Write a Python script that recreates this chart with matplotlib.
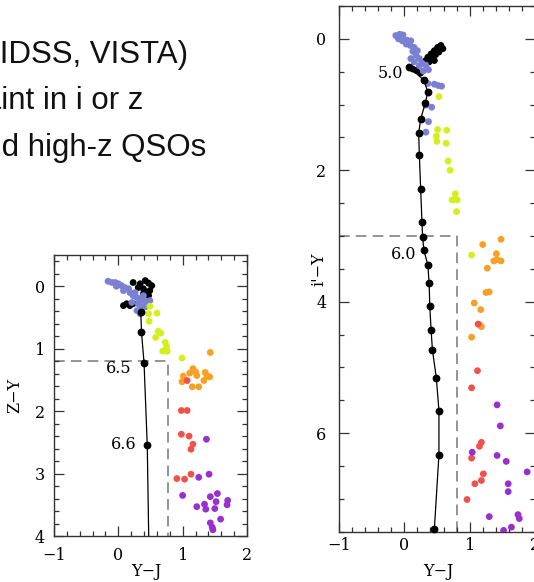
import numpy as np
import matplotlib
matplotlib.use("Agg")
from matplotlib import pyplot as plt
from matplotlib.ticker import MultipleLocator

# colour groups of the simulated sources
c_blue = "#7b80d2"
c_lime = "#d4ef1c"
c_orange = "#f6a124"
c_red = "#f0524a"
c_purple = "#9a2fcf"

# ---- left panel: Z-Y vs Y-J ----
zy_blue_x = [-0.16, -0.10, -0.05, 0.0, 0.05, 0.10, 0.16, -0.03, 0.08, 0.18, 0.23, 0.29, 0.34, 0.39,
             0.44, 0.49, 0.31, 0.36, 0.29, 0.34, 0.39, 0.26, 0.21, 0.42]
zy_blue_y = [-0.08, -0.06, -0.06, -0.04, -0.01, 0.02, 0.04, 0.0, 0.07, 0.10, 0.15, 0.18, 0.20, 0.23,
             0.25, 0.23, 0.28, 0.33, 0.39, 0.44, 0.15, 0.10, 0.26, 0.33]
zy_black_x = [0.23, 0.34, 0.42, 0.47, 0.52, 0.49, 0.44, 0.47, 0.39, 0.31, 0.23, 0.18, 0.08, 0.13, 0.39]
zy_black_y = [-0.06, -0.04, -0.09, -0.05, -0.01, 0.07, 0.10, 0.15, 0.04, 0.02, 0.28, 0.31, 0.31, 0.28, 0.12]
zy_lime_x = [0.49, 0.47, 0.60, 0.48, 0.62, 0.66, 0.58, 0.73, 0.75, 0.69, 0.76, 0.99]
zy_lime_y = [0.32, 0.44, 0.43, 0.56, 0.72, 0.75, 0.82, 0.90, 0.97, 1.04, 1.04, 1.15]
zy_orange_x = [1.43, 1.16, 1.11, 1.20, 1.01, 1.22, 1.35, 1.42, 0.99, 1.33, 1.15, 1.25, 1.38]
zy_orange_y = [1.06, 1.32, 1.39, 1.37, 1.44, 1.43, 1.38, 1.45, 1.53, 1.51, 1.61, 1.61, 1.44]
zy_red_x = [1.07, 0.98, 1.07, 0.98, 1.10, 1.16, 1.13, 0.91, 1.03, 1.13]
zy_red_y = [1.51, 1.99, 1.99, 2.37, 2.40, 2.53, 2.61, 3.08, 3.09, 3.01]
zy_purple_x = [1.37, 1.25, 1.41, 1.00, 1.22, 1.34, 1.36, 1.43, 1.54, 1.52, 1.50, 1.70, 1.69, 1.59,
               1.43, 1.46, 1.47]
zy_purple_y = [2.45, 3.06, 3.01, 3.35, 3.53, 3.49, 3.57, 3.37, 3.32, 3.45, 3.56, 3.43, 3.50, 3.73,
               3.79, 3.86, 3.90]
# quasar track, z = 6.3 ... 6.7
zy_track_z = [6.3, 6.4, 6.5, 6.6, 6.7]
zy_track_x = [0.35, 0.36, 0.40, 0.45, 0.48]
zy_track_y = [0.42, 0.73, 1.23, 2.55, 4.5]

# ---- right panel: i'-Y vs Y-J ----
iy_blue_x = [-0.13, -0.07, -0.02, -0.09, -0.03, 0.04, 0.10, 0.03, 0.09, 0.15, 0.13, 0.20, 0.18, 0.10,
             0.23, 0.15, 0.27, 0.33, 0.37, 0.29, 0.23, 0.36, 0.46, 0.52, 0.57, 0.33, 0.42, 0.37, 0.33]
iy_blue_y = [-0.05, -0.07, -0.06, 0.0, 0.03, 0.02, 0.03, 0.08, 0.10, 0.13, 0.19, 0.18, 0.25, 0.30,
             0.30, 0.35, 0.37, 0.40, 0.47, 0.49, 0.41, 0.68, 0.69, 0.71, 0.72, 1.01, 1.04, 1.26, 1.42]
iy_black_x = [0.56, 0.51, 0.59, 0.46, 0.53, 0.41, 0.48, 0.36, 0.43, 0.33, 0.38, 0.46, 0.31, 0.18,
              0.25, 0.13]
iy_black_y = [0.10, 0.13, 0.15, 0.18, 0.20, 0.23, 0.24, 0.28, 0.29, 0.33, 0.35, 0.33, 0.36, 0.48,
              0.52, 0.46]
iy_lime_x = [0.53, 0.51, 0.65, 0.49, 0.50, 0.64, 0.67, 0.70, 0.78, 0.73, 0.77, 0.81, 0.80, 1.03]
iy_lime_y = [0.88, 1.38, 1.39, 1.48, 1.56, 1.59, 1.86, 2.00, 2.36, 2.45, 2.45, 2.45, 2.63, 3.29]
iy_orange_x = [1.48, 1.20, 1.41, 1.37, 1.42, 1.48, 1.27, 1.25, 1.30, 1.07, 1.17, 1.18, 1.03, 1.15]
iy_orange_y = [3.05, 3.13, 3.27, 3.38, 3.36, 3.38, 3.49, 3.86, 3.85, 4.02, 4.12, 4.38, 4.54, 4.35]
iy_red_x = [1.13, 1.12, 1.03, 1.18, 1.15, 1.03, 1.21, 1.18, 1.08, 0.96]
iy_red_y = [4.34, 5.05, 5.31, 6.14, 6.20, 6.38, 6.62, 6.72, 6.77, 7.01]
iy_purple_x = [1.42, 1.47, 1.04, 1.42, 1.56, 1.88, 1.59, 1.59, 1.30, 1.74, 1.76, 1.64, 1.52]
iy_purple_y = [5.57, 5.89, 6.29, 6.34, 6.43, 6.59, 6.77, 6.89, 7.27, 7.24, 7.30, 7.43, 7.48]
# quasar track, z = 5.0 ... 6.9 in steps of 0.1
iy_track_z = [5.0, 5.1, 5.2, 5.3, 5.4, 5.5, 5.6, 5.7, 5.8, 5.9, 6.0, 6.1, 6.2, 6.3, 6.4, 6.5, 6.6,
              6.7, 6.8, 6.9]
iy_track_x = [0.076, 0.30, 0.36, 0.32, 0.25, 0.22, 0.23, 0.25, 0.27, 0.28, 0.30, 0.36, 0.38, 0.39,
              0.41, 0.43, 0.49, 0.53, 0.53, 0.46]
iy_track_y = [0.43, 0.63, 0.81, 0.98, 1.22, 1.44, 1.76, 2.28, 2.78, 3.02, 3.22, 3.44, 3.72, 4.07,
              4.43, 4.73, 5.16, 5.66, 6.33, 7.46]

# redshift labels and their offsets from the track point (dx, dy)
zy_labels = {6.5: (-0.19, 0.08), 6.6: (-0.16, -0.02)}
iy_labels = {5.0: (-0.10, 0.10), 6.0: (-0.12, 0.06)}

# colour cuts (dashed boxes)
zy_cut_y, zy_cut_x = 1.2, 0.78
iy_cut_y, iy_cut_x = 3.0, 0.80

serif = "DejaVu Serif"
plt.rcParams["font.family"] = serif
plt.rcParams["font.size"] = 11.5

fig = plt.figure(figsize=(5.34, 5.82), dpi=100)

# slide text (left part runs off the figure)
slide_lines = ["(UKIDSS, VISTA)", "faint in i or z", "and high-z QSOs"]
slide_x = [0.353, 0.269, 0.386]
slide_y = [0.892, 0.813, 0.732]
for s, tx, ty in zip(slide_lines, slide_x, slide_y):
    fig.text(tx, ty, s, ha="right", va="baseline", fontsize=22.5,
             family="Liberation Sans", color="#111111")


def style_axes(ax, ymajor, yminor, xpad, ypad):
    ax.set_xlim(-1, 2)
    ax.xaxis.set_major_locator(MultipleLocator(1))
    ax.xaxis.set_minor_locator(MultipleLocator(0.2))
    ax.yaxis.set_major_locator(MultipleLocator(ymajor))
    ax.yaxis.set_minor_locator(MultipleLocator(yminor))
    ax.tick_params(which="both", direction="in", top=True, right=True,
                   color="#333333", width=0.9)
    ax.tick_params(which="major", length=7)
    ax.tick_params(which="minor", length=3.5)
    ax.tick_params(axis="x", pad=xpad)
    ax.tick_params(axis="y", pad=ypad)
    for sp in ax.spines.values():
        sp.set_color("#333333")
        sp.set_linewidth(1.0)


def draw_groups(ax, groups, size):
    for gx, gy, col in groups:
        ax.scatter(gx, gy, s=size, color=col, edgecolors="none", zorder=3)


def label_track(ax, zs, xs, ys, labels):
    for z, tx, ty in zip(zs, xs, ys):
        if z in labels:
            dx, dy = labels[z]
            ax.text(tx + dx, ty + dy, f"{z:.1f}", ha="right", va="center", zorder=5)


# ---- left panel ----
ax1 = fig.add_axes([0.1011, 0.0790, 0.3614, 0.4828])
style_axes(ax1, 1, 0.2, 8, 6.5)
ax1.set_ylim(4, -0.5)
ax1.plot([-1, zy_cut_x, zy_cut_x], [zy_cut_y, zy_cut_y, 4], ls=(0, (7, 4)), color="#777777",
         lw=1.1, zorder=1)
draw_groups(ax1, [(zy_black_x, zy_black_y, "black"), (zy_blue_x, zy_blue_y, c_blue),
                  (zy_lime_x, zy_lime_y, c_lime), (zy_orange_x, zy_orange_y, c_orange),
                  (zy_red_x, zy_red_y, c_red), (zy_purple_x, zy_purple_y, c_purple)], 24)
ax1.plot(zy_track_x, zy_track_y, color="black", lw=0.9, marker="o", ms=4.6, zorder=4)
label_track(ax1, zy_track_z, zy_track_x, zy_track_y, zy_labels)
ax1.set_xlabel("Y\u2212J")
ax1.set_ylabel("Z\u2212Y")
ax1.xaxis.set_label_coords(0.48, -0.096)
ax1.yaxis.set_label_coords(-0.16, 0.5)

# ---- right panel ----
ax2 = fig.add_axes([0.6348, 0.0864, 0.3670, 0.9033])
style_axes(ax2, 2, 0.5, 4, 9)
ax2.set_ylim(7.5, -0.5)
ax2.plot([-1, iy_cut_x, iy_cut_x], [iy_cut_y, iy_cut_y, 7.5], ls=(0, (7, 4)), color="#777777",
         lw=1.1, zorder=1)
draw_groups(ax2, [(iy_black_x, iy_black_y, "black"), (iy_blue_x, iy_blue_y, c_blue),
                  (iy_lime_x, iy_lime_y, c_lime), (iy_orange_x, iy_orange_y, c_orange),
                  (iy_red_x, iy_red_y, c_red), (iy_purple_x, iy_purple_y, c_purple)], 24)
ax2.plot(iy_track_x, iy_track_y, color="black", lw=0.9, marker="o", ms=4.6, zorder=4,
         clip_on=False)
label_track(ax2, iy_track_z, iy_track_x, iy_track_y, iy_labels)
ax2.set_xlabel("Y\u2212J")
ax2.set_ylabel("i'\u2212Y")
ax2.xaxis.set_label_coords(0.505, -0.06)
ax2.yaxis.set_label_coords(-0.061, 0.5)

fig.savefig("out.png", dpi=100)
